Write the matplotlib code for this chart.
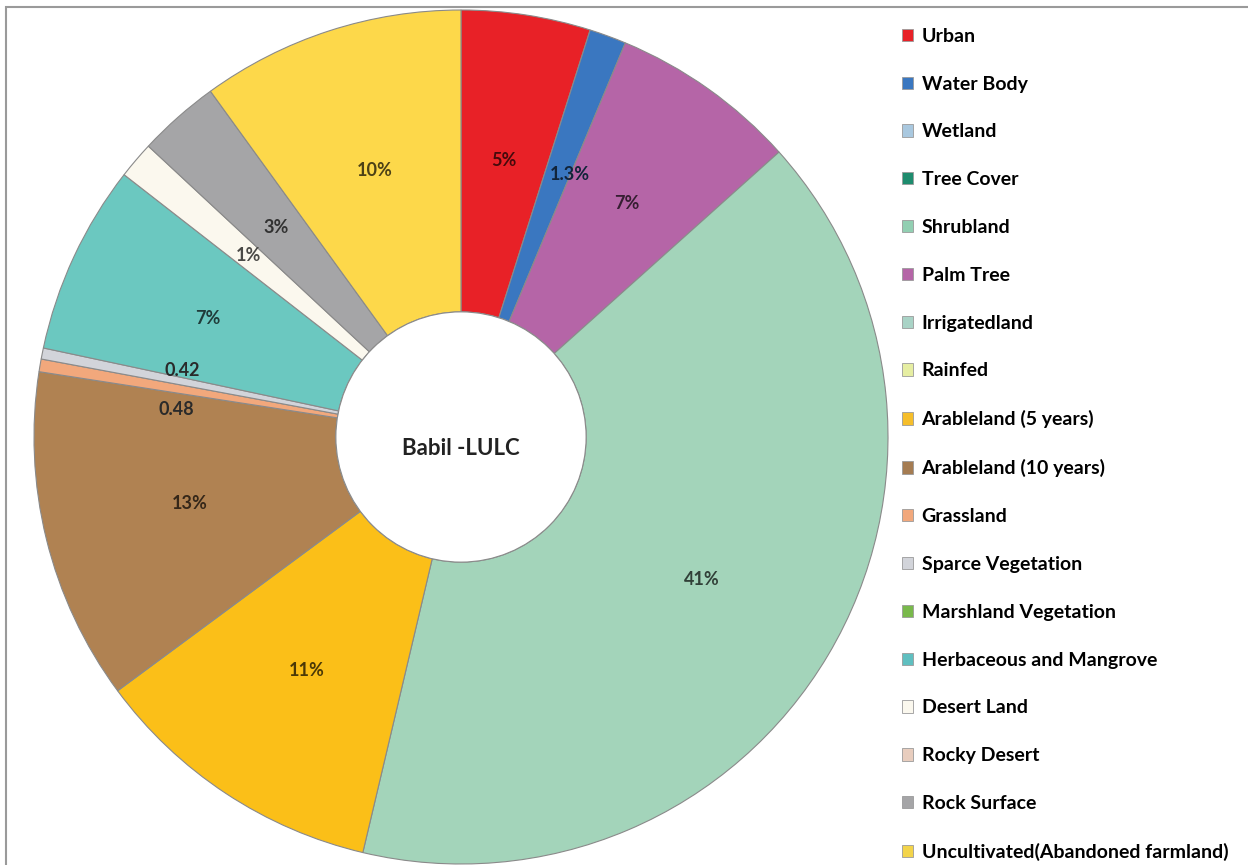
import numpy as np
import matplotlib
matplotlib.use('Agg')
import matplotlib.pyplot as plt
from matplotlib.patches import Patch, Rectangle, Circle
from matplotlib.colors import to_rgb

plt.rcParams['font.family'] = ['Lato', 'DejaVu Sans']
plt.rcParams['font.weight'] = 'bold'

# Legend categories (all classes, incl. the ones with no share in Babil)
legend_names = ['Urban', 'Water Body', 'Wetland', 'Tree Cover', 'Shrubland', 'Palm Tree',
                'Irrigatedland', 'Rainfed', 'Arableland (5 years)', 'Arableland (10 years)',
                'Grassland', 'Sparce Vegetation', 'Marshland Vegetation',
                'Herbaceous and Mangrove', 'Desert Land', 'Rocky Desert', 'Rock Surface',
                'Uncultivated(Abandoned farmland)']
legend_colors = ['#E82127', '#3A77C0', '#A9C8DF', '#1E8C6E', '#92CFB2', '#B565A7',
                 '#A9D3C6', '#E6EEA2', '#F6BE2A', '#A57C52', '#F2A87C', '#D2D4DA',
                 '#79B94B', '#5FBFC0', '#FBF8EE', '#E8CDBE', '#A5A5A7', '#F3D44A']

# Slices drawn in the donut (clockwise from 12 o'clock)
slice_names = ['Urban', 'Water Body', 'Palm Tree', 'Irrigatedland', 'Arableland (5 years)',
               'Arableland (10 years)', 'Grassland', 'Sparce Vegetation',
               'Herbaceous and Mangrove', 'Desert Land', 'Rock Surface',
               'Uncultivated(Abandoned farmland)']
slice_values = [4.9, 1.4, 7.1, 40.4, 11.2, 12.6, 0.48, 0.42, 7.2, 1.4, 3.1, 10.0]
slice_labels = ['5%', '1.3%', '7%', '41%', '11%', '13%', '0.48', '0.42', '7%', '1%', '3%', '10%']
slice_fill = {'Irrigatedland': '#A3D4BA', 'Arableland (5 years)': '#FBBF18',
              'Arableland (10 years)': '#B08252', 'Uncultivated(Abandoned farmland)': '#FDD84A',
              'Herbaceous and Mangrove': '#6BC8C0'}

fig = plt.figure(figsize=(12.48, 8.65), dpi=100)

# thin frame of the original image (only top and left edges show)
fig.add_artist(Rectangle((6 / 1248, -0.1), 1.2, (865 - 7) / 865 + 0.1, transform=fig.transFigure,
                         fill=False, edgecolor='#9A9A9A', linewidth=1.5))

cx, cy, R = 461, 437, 427
ax = fig.add_axes([(cx - R) / 1248, (865 - cy - R) / 865, 2 * R / 1248, 2 * R / 865])

colors = [slice_fill.get(n, legend_colors[legend_names.index(n)]) for n in slice_names]
hole = 0.293
wedges, _ = ax.pie(slice_values, colors=colors, startangle=90, counterclock=False,
                   radius=1, wedgeprops=dict(width=1 - hole, edgecolor='#8A8A8A', linewidth=0.8))
ax.add_patch(Circle((0, 0), hole, facecolor='white', edgecolor='#8A8A8A', linewidth=0.8))
ax.set_xlim(-1, 1)
ax.set_ylim(-1, 1)
ax.axis('off')

# percentage labels, a bit off for the thin slivers
nudge = {'0.48': (-0.02, -0.045), '0.42': (-0.01, 0.027), '1.3%': (0.03, 0.0),
         '7%': (0.0, 0.0)}
for i, (w, lab, col) in enumerate(zip(wedges, slice_labels, colors)):
    ang = np.deg2rad((w.theta1 + w.theta2) / 2)
    r = 0.67 if i == 2 else 0.655
    x, y = r * np.cos(ang), r * np.sin(ang)
    dx, dy = nudge.get(lab, (0, 0))
    dark = tuple(c * 0.3 for c in to_rgb(col))
    if lab in ('0.48', '0.42'):
        dark = '#2A2A2A'
    ax.text(x + dx, y + dy, lab, ha='center', va='center', fontsize=13,
            fontweight='bold', color=dark)

ax.text(0, -0.026, 'Babil -LULC', ha='center', va='center', fontsize=16,
        fontweight='bold', color='#222222')

handles = [Patch(facecolor=c, edgecolor='#9A9A9A', linewidth=0.6) for c in legend_colors]
fig.legend(handles, legend_names, loc='upper left', bbox_to_anchor=(892 / 1248, 1 - 18 / 865),
           frameon=False, labelspacing=1.585, handlelength=0.6,
           handleheight=0.6, handletextpad=0.42, borderpad=0,
           prop={'weight': 'bold', 'size': 14})

fig.savefig('out.png', dpi=100, facecolor='white')
